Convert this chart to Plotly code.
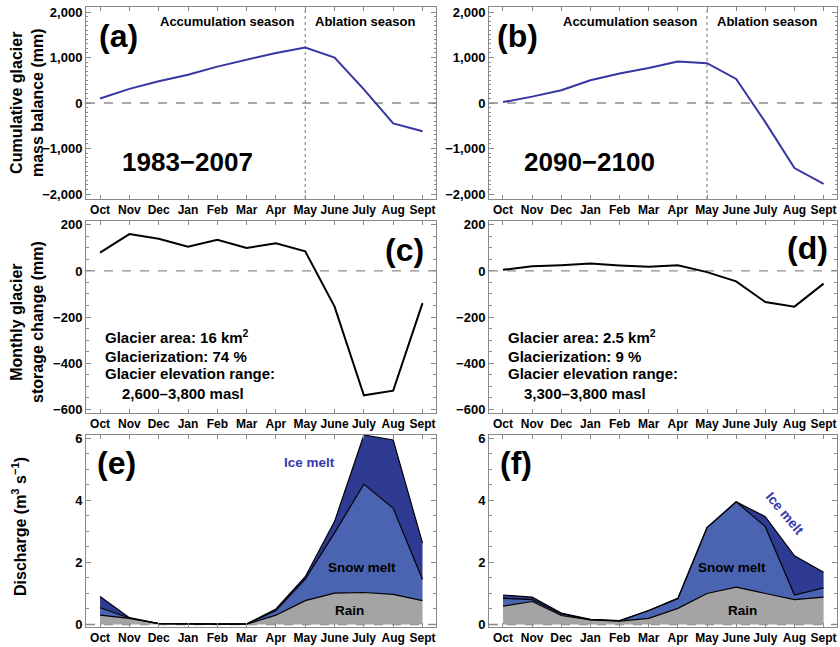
import plotly.graph_objects as go
from plotly.subplots import make_subplots

months = ["Oct", "Nov", "Dec", "Jan", "Feb", "Mar", "Apr", "May", "June", "July", "Aug", "Sept"]

# (a)/(b) cumulative glacier mass balance (mm)
mb_1983_2007 = [100, 310, 480, 620, 800, 950, 1100, 1220, 1000, 300, -450, -620]
mb_2090_2100 = [20, 140, 280, 500, 650, 770, 910, 875, 530, -420, -1430, -1780]

# (c)/(d) monthly glacier storage change (mm)
st_1983_2007 = [80, 160, 140, 105, 135, 100, 120, 85, -155, -540, -520, -140]
st_2090_2100 = [5, 20, 25, 32, 24, 18, 25, -5, -45, -135, -155, -55]

# (e)/(f) discharge components (m3 s-1)
rain_e = [0.30, 0.20, 0.03, 0.01, 0.01, 0.01, 0.30, 0.77, 1.01, 1.03, 0.97, 0.77]
snow_e = [0.24, 0.01, 0.00, 0.00, 0.00, 0.00, 0.15, 0.69, 1.94, 3.49, 2.77, 0.68]
ice_e = [0.36, 0.01, 0.00, 0.01, 0.01, 0.01, 0.05, 0.08, 0.37, 1.58, 2.20, 1.17]

rain_f = [0.59, 0.74, 0.29, 0.15, 0.11, 0.20, 0.52, 1.00, 1.20, 1.00, 0.80, 0.88]
snow_f = [0.25, 0.06, 0.05, 0.01, 0.01, 0.25, 0.32, 2.12, 2.75, 2.15, 0.15, 0.30]
ice_f = [0.11, 0.08, 0.03, 0.01, 0.01, 0.00, 0.00, 0.00, 0.00, 0.32, 1.26, 0.50]

FONT = "Liberation Sans, Arial, sans-serif"
LINE_BLUE = "#3636a3"
ICE = "#2f3a92"
SNOW = "#4a64b2"
RAIN = "#a4a4a4"
FRAME = "#8a8a8a"
W, H = 840, 647

fig = make_subplots(rows=3, cols=2)

fig.add_trace(go.Scatter(x=months, y=mb_1983_2007, mode="lines",
                         line=dict(color=LINE_BLUE, width=2)), row=1, col=1)
fig.add_trace(go.Scatter(x=months, y=mb_2090_2100, mode="lines",
                         line=dict(color=LINE_BLUE, width=2)), row=1, col=2)
fig.add_trace(go.Scatter(x=months, y=st_1983_2007, mode="lines",
                         line=dict(color="black", width=2)), row=2, col=1)
fig.add_trace(go.Scatter(x=months, y=st_2090_2100, mode="lines",
                         line=dict(color="black", width=2)), row=2, col=2)

for col, (rain, snow, ice) in zip([1, 2], [(rain_e, snow_e, ice_e), (rain_f, snow_f, ice_f)]):
    g = "s%d" % col
    fig.add_trace(go.Scatter(x=months, y=rain, mode="lines", stackgroup=g,
                             fillcolor=RAIN, line=dict(color="black", width=1.2)), row=3, col=col)
    fig.add_trace(go.Scatter(x=months, y=snow, mode="lines", stackgroup=g,
                             fillcolor=SNOW, line=dict(color="black", width=1.2)), row=3, col=col)
    fig.add_trace(go.Scatter(x=months, y=ice, mode="lines", stackgroup=g,
                             fillcolor=ICE, line=dict(color="black", width=1.2)), row=3, col=col)

xdom = {1: [86 / W, 436 / W], 2: [489 / W, 837 / W]}
ydom = {1: [1 - 199 / H, 1 - 7 / H], 2: [1 - 413 / H, 1 - 221 / H], 3: [1 - 627 / H, 1 - 435 / H]}
yspec = {
    1: dict(range=[-2110, 2110], dtick=1000, minor=dict(dtick=100, ticklen=2, ticks="inside", tickcolor=FRAME)),
    2: dict(range=[-617, 217], dtick=200, minor=dict(dtick=50, ticklen=3, ticks="inside", tickcolor=FRAME)),
    3: dict(range=[-0.08, 6.1], dtick=2, minor=dict(dtick=0.5, ticklen=3, ticks="inside", tickcolor=FRAME)),
}

for r in [1, 2, 3]:
    for c in [1, 2]:
        fig.update_xaxes(row=r, col=c, domain=xdom[c], range=[-0.48, 11.46],
                         showline=True, mirror="allticks", linecolor=FRAME, linewidth=1,
                         ticks="inside", ticklen=4, tickcolor=FRAME, showgrid=False, zeroline=False,
                         tickangle=0, automargin=False,
                         tickfont=dict(family=FONT, size=12, color="black", weight="bold"))
        fig.update_yaxes(row=r, col=c, domain=ydom[r], showline=True, mirror="allticks",
                         linecolor=FRAME, linewidth=1, ticks="inside", ticklen=5, tickcolor=FRAME,
                         showgrid=False, zeroline=False, tickformat=",", automargin=False,
                         tickfont=dict(family=FONT, size=13, color="black", weight="bold"),
                         **yspec[r])

shapes = []
axes = {(1, 1): ("x", "y"), (1, 2): ("x2", "y2"), (2, 1): ("x3", "y3"),
        (2, 2): ("x4", "y4"), (3, 1): ("x5", "y5"), (3, 2): ("x6", "y6")}
for (r, c), (xa, ya) in axes.items():
    shapes.append(dict(type="line", xref=xa + " domain", yref=ya, x0=0, x1=1, y0=0, y1=0,
                       line=dict(color="#8c8c8c", width=1.3, dash="dash"), layer="below"))
may = months.index("May")
for xa, ya in [("x", "y"), ("x2", "y2")]:
    shapes.append(dict(type="line", xref=xa, yref=ya + " domain", x0=may, x1=may, y0=0, y1=1,
                       line=dict(color="#8c8c8c", width=1.2, dash="dot"), layer="below"))


def ann(text, x, y, size, color="black", xanchor="center", angle=0):
    return dict(text=text, x=x / W, y=1 - y / H, xref="paper", yref="paper",
                xanchor=xanchor, yanchor="middle", showarrow=False, textangle=angle,
                font=dict(family=FONT, size=size, color=color, weight="bold"))


annotations = [
    ann("Cumulative glacier<br>mass balance (mm)", 27, 103, 16, angle=-90),
    ann("Monthly glacier<br>storage change (mm)", 27, 322, 16, angle=-90),
    ann("Discharge (m<sup>3</sup> s<sup>\u22121</sup>)", 19, 527, 16, angle=-90),
    ann("(a)", 118, 36, 32), ann("(b)", 517, 36, 32),
    ann("(c)", 404, 250, 32), ann("(d)", 807, 248, 32),
    ann("(e)", 116, 463, 32), ann("(f)", 516, 463, 32),
    ann("Accumulation season", 227, 22, 13), ann("Ablation season", 365, 22, 13),
    ann("Accumulation season", 630, 22, 13), ann("Ablation season", 767, 22, 13),
    ann("1983\u22122007", 187, 162, 26), ann("2090\u22122100", 589, 162, 26),
    ann("Glacier area: 16 km<sup>2</sup>", 103, 337, 15, xanchor="left"),
    ann("Glacierization: 74 %", 103, 356, 15, xanchor="left"),
    ann("Glacier elevation range:", 103, 374, 15, xanchor="left"),
    ann("2,600\u20133,800 masl", 120, 393, 15, xanchor="left"),
    ann("Glacier area: 2.5 km<sup>2</sup>", 506, 337, 15, xanchor="left"),
    ann("Glacierization: 9 %", 506, 356, 15, xanchor="left"),
    ann("Glacier elevation range:", 506, 374, 15, xanchor="left"),
    ann("3,300\u20133,800 masl", 522, 393, 15, xanchor="left"),
    ann("Ice melt", 309, 462, 13.5, color="#3838ad"),
    ann("Snow melt", 362, 567, 13.5), ann("Rain", 349, 610, 13.5),
    ann("Snow melt", 732, 567, 13.5), ann("Rain", 742, 610, 13.5),
    ann("Ice melt", 785, 513, 13.5, color="#3838ad", angle=50),
]

fig.update_layout(width=W, height=H, margin=dict(l=0, r=0, t=0, b=0),
                  paper_bgcolor="white", plot_bgcolor="white", showlegend=False,
                  shapes=shapes, annotations=annotations,
                  font=dict(family=FONT, color="black"))

fig.write_html("out.html", config={"displayModeBar": False},
               post_script="document.body.style.margin='0';document.body.style.overflow='hidden';")
